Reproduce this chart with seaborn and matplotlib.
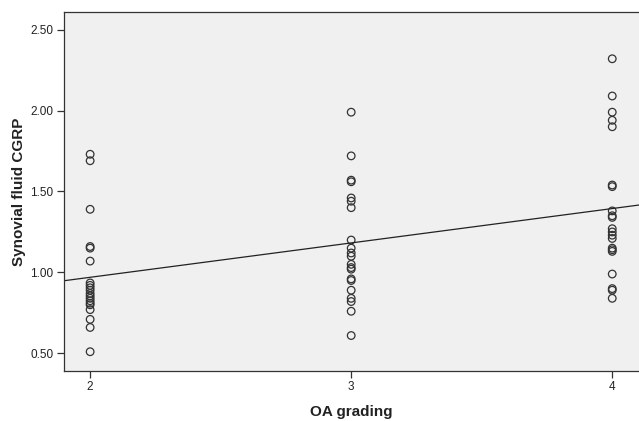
import numpy as np
import pandas as pd
import matplotlib
matplotlib.use("Agg")
import matplotlib.pyplot as plt
import seaborn as sns

# Data
grade2 = [1.73, 1.69, 1.39, 1.16, 1.15, 1.07, 0.935, 0.92, 0.905, 0.89, 0.87,
          0.855, 0.84, 0.825, 0.81, 0.80, 0.77, 0.71, 0.66, 0.51]
grade3 = [1.99, 1.72, 1.57, 1.56, 1.46, 1.44, 1.40, 1.20, 1.15, 1.12, 1.10,
          1.05, 1.03, 1.02, 0.96, 0.95, 0.89, 0.84, 0.82, 0.76, 0.61]
grade4 = [2.32, 2.09, 1.99, 1.94, 1.90, 1.54, 1.53, 1.38, 1.35, 1.34, 1.27,
          1.25, 1.23, 1.21, 1.15, 1.14, 1.13, 0.99, 0.90, 0.89, 0.84]
x_ticks = [2, 3, 4]
y_ticks = [0.50, 1.00, 1.50, 2.00, 2.50]

df = pd.DataFrame({
    "OA grading": [2] * len(grade2) + [3] * len(grade3) + [4] * len(grade4),
    "Synovial fluid CGRP": grade2 + grade3 + grade4,
})

sns.set_theme(style="white")
plt.rcParams["font.family"] = ["Liberation Sans", "DejaVu Sans"]

fig = plt.figure(figsize=(6.39, 4.21), dpi=100)
ax = fig.add_axes([0.1002, 0.1188, 0.9, 0.8527])
ax.set_facecolor("#f0f0f0")

sns.scatterplot(data=df, x="OA grading", y="Synovial fluid CGRP", ax=ax,
                marker="o", s=30, facecolor="none", edgecolor="#333333",
                linewidth=0.9)
ax.set_xlim(1.90, 4.103)
ax.set_ylim(0.391, 2.609)
sns.regplot(data=df, x="OA grading", y="Synovial fluid CGRP", ax=ax,
            scatter=False, ci=None, truncate=False,
            line_kws={"color": "#222222", "linewidth": 0.9})

ax.set_xlim(1.90, 4.103)
ax.set_ylim(0.391, 2.609)
ax.set_xticks(x_ticks)
ax.set_xticklabels([str(t) for t in x_ticks])
ax.set_yticks(y_ticks)
ax.set_yticklabels([f"{t:.2f}" for t in y_ticks])

for side in ["left", "bottom", "top"]:
    ax.spines[side].set_visible(True)
    ax.spines[side].set_color("#333333")
    ax.spines[side].set_linewidth(0.9)
ax.spines["right"].set_visible(False)

ax.tick_params(axis="both", which="major", direction="out", length=5,
               width=0.9, color="#333333", labelsize=8.5, labelcolor="#222222",
               bottom=True, left=True, top=False, right=False, pad=2.5)

ax.set_xlabel("OA grading", fontsize=11, fontweight="bold", color="#222222",
              labelpad=8)
ax.set_ylabel("Synovial fluid CGRP", fontsize=11, fontweight="bold",
              color="#222222", labelpad=3)
ax.grid(False)

fig.savefig("out.png", dpi=100)
